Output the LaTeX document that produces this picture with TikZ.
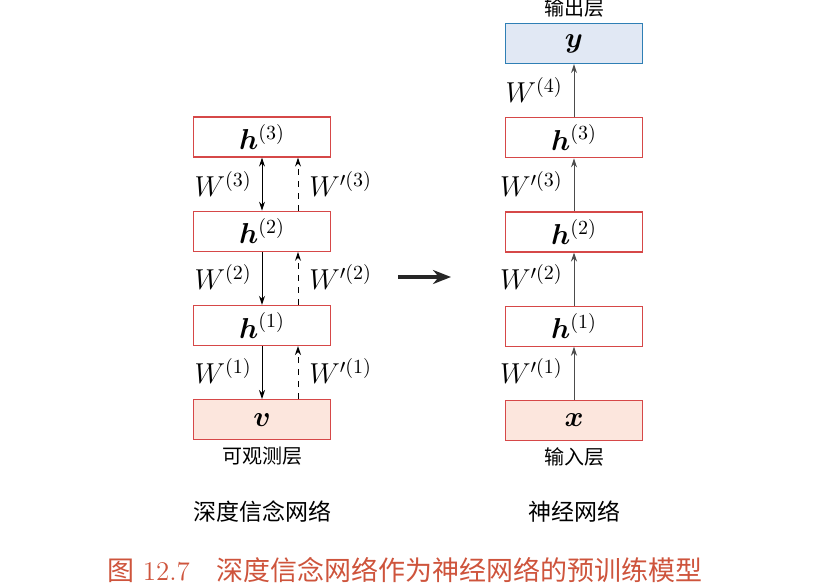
\documentclass[tikz,border=0pt]{standalone}
\usepackage{amsmath,bm}
\usepackage{fontspec}
\newfontfamily\cjk{Noto Sans CJK SC}
\usetikzlibrary{positioning, arrows.meta}

\definecolor{boxred}{RGB}{214,72,72}
\definecolor{boxpink}{RGB}{252,230,221}
\definecolor{boxblue}{RGB}{47,127,181}
\definecolor{fillblue}{RGB}{225,232,244}
\definecolor{captred}{RGB}{206,84,60}

\begin{document}
\begin{tikzpicture}[
    x=0.5pt, y=-0.5pt,
    node distance=26.5pt,
    camada/.style={rectangle, draw=boxred, line width=0.6pt, minimum width=68.5pt,
                   minimum height=20pt, inner sep=0pt, font=\fontsize{14.5}{16}\selectfont},
    visivel/.style={camada, fill=boxpink},
    saida/.style={camada, draw=boxblue, fill=fillblue},
    peso/.style={font=\fontsize{14}{16}\selectfont, inner sep=0pt},
    rotulo/.style={font=\cjk\fontsize{10}{12}\selectfont, inner sep=0pt},
    titulo/.style={font=\cjk\fontsize{11.5}{14}\selectfont, inner sep=0pt},
    seta/.style={-{Stealth[length=4.5pt, width=3pt]}, line width=0.5pt},
    setadupla/.style={{Stealth[length=4.5pt, width=3pt]}-{Stealth[length=4.5pt, width=3pt]}, line width=0.5pt},
    setacinza/.style={seta, black!70}
]
\useasboundingbox (0,0) rectangle (826,586);

% Rede de crenca profunda
\node[camada] (lh3) at (262,137) {$\bm{h}^{(3)}$};
\node[camada, below=of lh3] (lh2) {$\bm{h}^{(2)}$};
\node[camada, below=of lh2] (lh1) {$\bm{h}^{(1)}$};
\node[visivel, below=of lh1] (v) {$\bm{v}$};

% Rede neural
\node[saida] (y) at (574,43.5) {$\bm{y}$};
\node[camada, below=of y] (rh3) {$\bm{h}^{(3)}$};
\node[camada, below=of rh3] (rh2) {$\bm{h}^{(2)}$};
\node[camada, below=of rh2] (rh1) {$\bm{h}^{(1)}$};
\node[visivel, below=of rh1] (x) {$\bm{x}$};

% Setas da esquerda
\draw[setadupla] (lh3) -- (lh2);
\draw[seta] (lh2) -- (lh1);
\draw[seta] (lh1) -- (v);
\draw[seta, dashed] ([xshift=18pt]lh2.north) -- ([xshift=18pt]lh3.south);
\draw[seta, dashed] ([xshift=18pt]lh1.north) -- ([xshift=18pt]lh2.south);
\draw[seta, dashed] ([xshift=18pt]v.north) -- ([xshift=18pt]lh1.south);

% Pesos da esquerda
\node[peso, anchor=east] (w3) at (252,184) {$W^{(3)}$};
\node[peso, anchor=east] (w2) at (252,277) {$W^{(2)}$};
\node[peso, anchor=east] (w1) at (252,371) {$W^{(1)}$};
\node[peso, anchor=west] (wl3) at (309,184) {$W'^{(3)}$};
\node[peso, anchor=west] (wl2) at (309,277) {$W'^{(2)}$};
\node[peso, anchor=west] (wl1) at (309,371) {$W'^{(1)}$};

% Setas da direita
\draw[setacinza] (x) -- (rh1);
\draw[setacinza] (rh1) -- (rh2);
\draw[setacinza] (rh2) -- (rh3);
\draw[setacinza] (rh3) -- (y);

% Pesos da direita
\node[peso, anchor=east] (rw4) at (563,90) {$W^{(4)}$};
\node[peso, anchor=east] (rw3) at (563,184) {$W'^{(3)}$};
\node[peso, anchor=east] (rw2) at (563,277) {$W'^{(2)}$};
\node[peso, anchor=east] (rw1) at (563,371) {$W'^{(1)}$};

% Rotulos das camadas
\node[rotulo, above=2.5pt of y] (lsaida) {输出层};
\node[rotulo, below=3pt of x] (lentrada) {输入层};
\node[rotulo, below=3pt of v] (lvis) {可观测层};

% Seta de transformacao
\coordinate (ini) at (398,277);
\coordinate (fim) at (451,277);
\draw[-{Stealth[length=9pt, width=7pt]}, line width=1.6pt, black!85] (ini) -- (fim);

% Titulos
\node[titulo] (tdbn) at (262,512) {深度信念网络};
\node[titulo] (tnn) at (574,512) {神经网络};
\node[inner sep=0pt, text=captred, font=\fontsize{13.5}{16}\selectfont] (legenda) at (405,570)
     {{\cjk 图}\ 12.7\quad{\cjk 深度信念网络作为神经网络的预训练模型}};

\end{tikzpicture}
\end{document}
